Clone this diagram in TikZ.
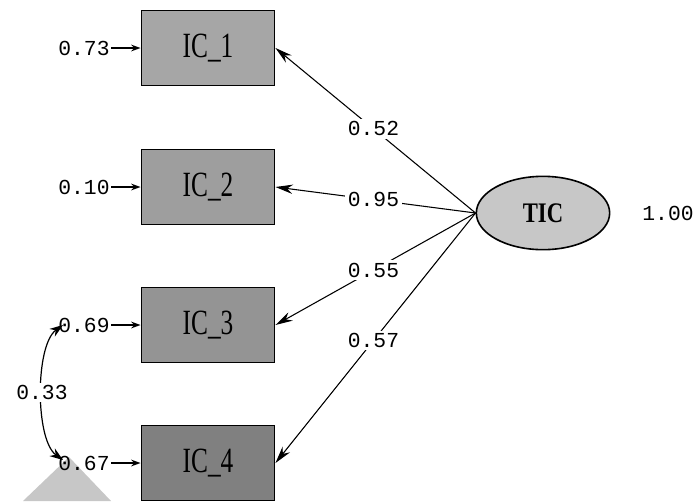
\documentclass[tikz,border=0pt]{standalone}
\usepackage{fontspec}
\setmainfont{Liberation Serif}
\newfontfamily\estfont{Liberation Mono}
\usetikzlibrary{shapes.geometric,arrows.meta,positioning}

\newcommand{\tallname}[1]{\scalebox{1}[1.4]{#1}}

\begin{document}
\begin{tikzpicture}[
    x=0.75pt, y=-0.75pt,
    node distance=22pt,
    obs/.style={rectangle, draw=black, line width=1.2pt, minimum width=100pt, minimum height=56pt, inner sep=0pt, font=\fontsize{19}{19}\selectfont},
    lat/.style={ellipse, draw=black, line width=1.2pt, fill=black!22, minimum width=100pt, minimum height=55pt, inner sep=0pt, font=\fontsize{17}{17}\selectfont\bfseries},
    est/.style={font=\estfont\fontsize{16}{16}\selectfont, inner sep=1pt},
    coef/.style={est, fill=white, inner sep=2pt},
    load/.style={-{Stealth[length=13pt,width=7pt]}, line width=0.8pt},
    err/.style={-{Stealth[length=7pt,width=5pt]}, line width=1.3pt},
    cov/.style={{Stealth[length=10pt,width=7pt]}-{Stealth[length=10pt,width=7pt]}, line width=0.9pt}
]
\useasboundingbox (0,0) rectangle (697,501);
\fill[black!22] (23,501) -- (69,457) -- (111,501) -- cycle;

\node (ic1) [obs, fill=black!35] at (208,48) {\tallname{IC\_1}};
\node (ic2) [obs, fill=black!38] at (208,187) {\tallname{IC\_2}};
\node (ic3) [obs, fill=black!42] at (208,325) {\tallname{IC\_3}};
\node (ic4) [obs, fill=black!50] at (208,463) {\tallname{IC\_4}};
\node (tic) [lat] at (543,213) {\scalebox{1}[1.25]{TIC}};
\node (vtic) [est] at (668,213) {1.00};

\node (e1) [est, left=of ic1] {0.73};
\node (e2) [est, left=of ic2] {0.10};
\node (e3) [est, left=of ic3] {0.69};
\node (e4) [est, left=of ic4] {0.67};
\draw[err] (e1) -- (ic1);
\draw[err] (e2) -- (ic2);
\draw[err] (e3) -- (ic3);
\draw[err] (e4) -- (ic4);

\draw[load] (tic.west) -- node[coef, pos=0.51] (l1) {0.52} (ic1.east);
\draw[load] (tic.west) -- node[coef, pos=0.51] (l2) {0.95} (ic2.east);
\draw[load] (tic.west) -- node[coef, pos=0.51] (l3) {0.55} (ic3.east);
\draw[load] (tic.west) -- node[coef, pos=0.51] (l4) {0.57} (ic4.east);

% error covariance
\coordinate (c3) at (63,325);
\coordinate (c4) at (63,460);
\draw[cov] (c3) .. controls (35,345) and (35,440) .. node[coef, pos=0.5] (l34) {0.33} (c4);
\end{tikzpicture}
\end{document}
